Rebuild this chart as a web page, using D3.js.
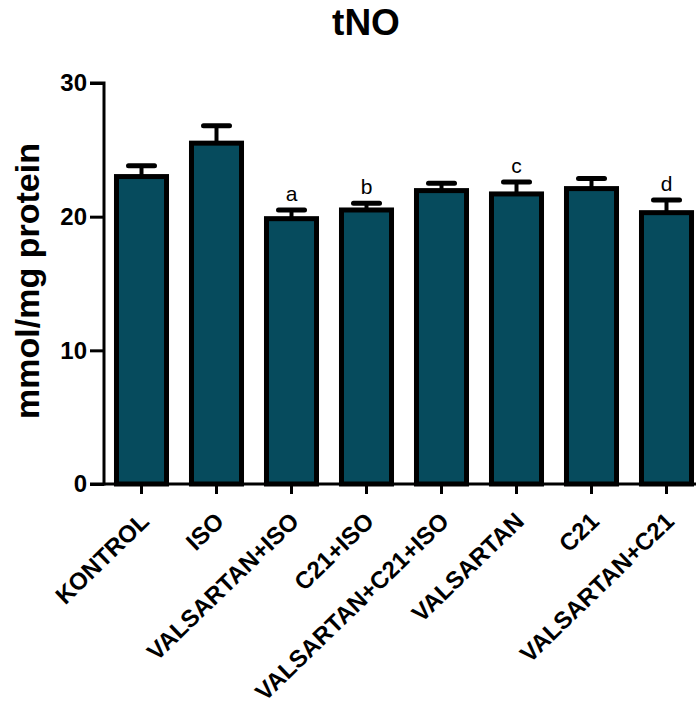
<!DOCTYPE html>
<html>
<head>
<meta charset="utf-8">
<script src="https://cdn.jsdelivr.net/npm/d3@7"></script>
<style>
  html, body { margin: 0; padding: 0; background: #fff; }
  svg { display: block; font-family: "Liberation Sans", Arial, sans-serif; }
</style>
</head>
<body>
<div id="chart"></div>
<script>
// tNO bar chart: mean ± SEM per group, letters mark significance.

const GROUPS  = ["KONTROL", "ISO", "VALSARTAN+ISO", "C21+ISO", "VALSARTAN+C21+ISO", "VALSARTAN", "C21", "VALSARTAN+C21"];
const MEANS   = [23.0, 25.5, 19.85, 20.5, 21.95, 21.7, 22.1, 20.3];
const SEMS    = [0.8, 1.3, 0.65, 0.5, 0.55, 0.9, 0.75, 0.95];
const LETTERS = ["", "", "a", "b", "", "c", "", "d"];
const Y_TICKS = [0, 10, 20, 30];

const W = 696, H = 720;
const x0 = 104, y0 = 484, yTop = 83;

const svg = d3.select("#chart").append("svg").attr("width", W).attr("height", H);

const x = d3.scaleBand().domain(GROUPS).range([x0, x0 + 8 * 75]).paddingInner(0.333).paddingOuter(0.1665);
const y = d3.scaleLinear().domain([0, 30]).range([y0, yTop]);

// title
svg.append("text")
  .attr("x", 366).attr("y", 35).attr("text-anchor", "middle")
  .style("font-size", "37px").style("font-weight", "bold")
  .text("tNO");

// y axis label
svg.append("text")
  .attr("transform", `translate(39,${281}) rotate(-90)`)
  .attr("text-anchor", "middle")
  .style("font-size", "34px").style("font-weight", "bold")
  .text("mmol/mg protein");

// bars
const bw = x.bandwidth();
svg.append("g").selectAll("rect").data(GROUPS).join("rect")
  .attr("x", d => x(d))
  .attr("y", (d, i) => y(MEANS[i]))
  .attr("width", bw)
  .attr("height", (d, i) => y0 - y(MEANS[i]))
  .attr("fill", "#064b5d")
  .attr("stroke", "#000").attr("stroke-width", 5);

// error bars (upper only)
const eb = svg.append("g").attr("stroke", "#000");
GROUPS.forEach((g, i) => {
  const cx = x(g) + bw / 2;
  eb.append("line")
    .attr("x1", cx).attr("x2", cx)
    .attr("y1", y(MEANS[i])).attr("y2", y(MEANS[i] + SEMS[i]))
    .attr("stroke-width", 4);
  eb.append("line")
    .attr("x1", cx - 13).attr("x2", cx + 13)
    .attr("y1", y(MEANS[i] + SEMS[i])).attr("y2", y(MEANS[i] + SEMS[i]))
    .attr("stroke-width", 5).attr("stroke-linecap", "round");
  if (LETTERS[i]) {
    svg.append("text")
      .attr("x", cx).attr("y", y(MEANS[i] + SEMS[i]) - 9)
      .attr("text-anchor", "middle")
      .style("font-size", "21px")
      .text(LETTERS[i]);
  }
});

// y axis
const yAxis = svg.append("g")
  .attr("transform", `translate(${x0},0)`)
  .call(d3.axisLeft(y).tickValues(Y_TICKS).tickSize(14).tickPadding(3).tickFormat(d3.format("d")));
yAxis.select(".domain").attr("stroke-width", 3).attr("d", `M-14,${yTop}H0V${y0}H-14`);
yAxis.selectAll(".tick line").attr("stroke-width", 3);
yAxis.selectAll(".tick text")
  .style("font-size", "24px").style("font-weight", "bold").style("font-family", "Liberation Sans, Arial, sans-serif")
  .attr("fill", "#000");

// x axis
const xAxis = svg.append("g")
  .attr("transform", `translate(0,${y0})`)
  .call(d3.axisBottom(x).tickSize(10).tickPadding(4));
xAxis.select(".domain").attr("stroke-width", 3).attr("d", `M${x0},0H${W}`);
xAxis.selectAll(".tick line").attr("stroke-width", 3);
xAxis.selectAll(".tick text")
  .attr("text-anchor", "end")
  .attr("y", 0).attr("dy", 0)
  .attr("transform", "translate(9,39) rotate(-44)")
  .style("font-size", "24px").style("font-weight", "bold").style("font-family", "Liberation Sans, Arial, sans-serif")
  .attr("fill", "#000");
</script>
</body>
</html>
